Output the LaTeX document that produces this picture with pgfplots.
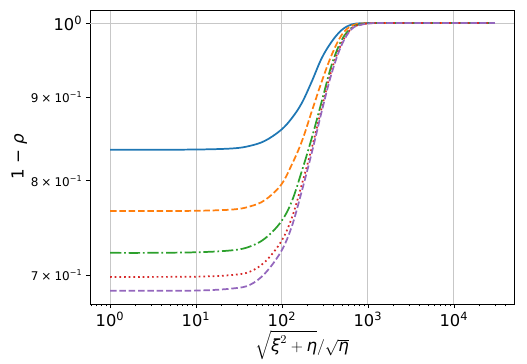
\documentclass[border=0pt]{standalone}
\usepackage{fontspec}
\setmainfont{DejaVu Sans}
\usepackage{amsmath}
\usepackage{pgfplots}
\pgfplotsset{compat=1.18}

\definecolor{mplblue}{HTML}{1F77B4}
\definecolor{mplorange}{HTML}{FF7F0E}
\definecolor{mplgreen}{HTML}{2CA02C}
\definecolor{mplred}{HTML}{D62728}
\definecolor{mplpurple}{HTML}{9467BD}

\newcommand{\minorlab}[1]{#1\hspace{0.25em}×\hspace{0.25em}10\textsuperscript{−1}}

\begin{document}
\begin{tikzpicture}
\begin{axis}[name=ax,
  xmode=log, ymode=log,
  scale only axis, width=318pt, height=220.5pt,
  xmin=0.585, xmax=50000, ymin=0.672, ymax=1.0186,
  axis line style={line width=0.6pt},
  tick align=outside, tick pos=left,
  every tick/.style={black, line width=0.6pt},
  major tick length=3.1pt, minor tick length=1.8pt,
  xtick={1,10,100,1000,10000},
  xticklabels={10\textsuperscript{0},10\textsuperscript{1},10\textsuperscript{2},10\textsuperscript{3},10\textsuperscript{4}},
  minor xtick={0.6,0.7,0.8,0.9,2,3,4,5,6,7,8,9,20,30,40,50,60,70,80,90,200,300,400,500,600,700,800,900,2000,3000,4000,5000,6000,7000,8000,9000,20000,30000,40000},
  xmajorgrids=true, ymajorgrids=false,
  major grid style={black!22, line width=0.7pt},
  xticklabel style={font=\fontsize{12.2}{14}\selectfont, inner sep=1pt, yshift=-2pt},
  ytick={0.7,0.8,0.9},
  yticklabels={\minorlab{7},\minorlab{8},\minorlab{9}},
  yticklabel style={font=\fontsize{9}{11}\selectfont, inner sep=2.5pt},
  yminorticks=false,
  extra y ticks={1},
  extra y tick labels={10\textsuperscript{0}},
  extra y tick style={ymajorgrids=true,
    yticklabel style={font=\fontsize{12.2}{14}\selectfont}},
  xlabel={$\sqrt{\textit{ξ}^{2}+\textit{η}}/\sqrt{\textit{η}}$},
  every axis x label/.style={at={(rel axis cs:0.5,0)}, anchor=base, yshift=-36pt,
    font=\fontsize{12.5}{14}\selectfont},
  ylabel={1 − \textit{ρ}},
  every axis y label/.style={at={(rel axis cs:0,0.5)}, xshift=-53pt, rotate=90, anchor=center,
    font=\fontsize{12.5}{14}\selectfont},
]
% blue, solid
\addplot[mplblue, line width=1.3pt, smooth, tension=0.6] coordinates {
  (1,0.8359) (3,0.8359) (11.1,0.8362) (27.2,0.8375) (42.4,0.8405) (63.4,0.8465)
  (97.3,0.8595) (129.6,0.8738) (169.4,0.8926) (221.4,0.9202) (289.4,0.9513)
  (378.3,0.9739) (494.5,0.9901) (646,0.998) (845,0.9997) (1200,1) (2000,1)
  (5000,1) (30000,1)};
% orange, dashed
\addplot[mplorange, line width=1.3pt, smooth, tension=0.6, dash pattern=on 4.9pt off 2.1pt] coordinates {
  (1,0.7665) (3,0.7665) (11.1,0.7668) (27.2,0.7683) (42.4,0.7715) (63.4,0.7785)
  (97.3,0.7952) (129.6,0.8181) (169.4,0.8452) (221.4,0.8820) (289.4,0.9202)
  (378.3,0.9557) (494.5,0.9832) (646,0.9962) (845,0.9993) (1200,1) (2000,1)
  (5000,1) (30000,1)};
% green, dash-dot
\addplot[mplgreen, line width=1.3pt, smooth, tension=0.6, dash pattern=on 8.5pt off 2.1pt on 1.3pt off 2.1pt] coordinates {
  (1,0.7225) (3,0.7225) (11.1,0.7232) (27.2,0.7252) (42.4,0.729) (63.4,0.7373)
  (97.3,0.7548) (129.6,0.7766) (169.4,0.8103) (221.4,0.8493) (289.4,0.8946)
  (378.3,0.9423) (494.5,0.9762) (646,0.9934) (845,0.9985) (1200,1) (2000,1)
  (5000,1) (30000,1)};
% red, dotted
\addplot[mplred, line width=1.3pt, smooth, tension=0.6, dash pattern=on 1.3pt off 2.2pt] coordinates {
  (1,0.6983) (3,0.6983) (11.1,0.6986) (27.2,0.7003) (42.4,0.7035) (63.4,0.7133)
  (97.3,0.7338) (129.6,0.7586) (169.4,0.7952) (221.4,0.8374) (289.4,0.8863)
  (378.3,0.9357) (494.5,0.9717) (646,0.9925) (845,0.998) (1200,1) (2000,1)
  (5000,1) (30000,1)};
% purple, dashed
\addplot[mplpurple, line width=1.3pt, smooth, tension=0.6, dash pattern=on 4.9pt off 2.1pt] coordinates {
  (1,0.6847) (3,0.6847) (11.1,0.685) (27.2,0.687) (42.4,0.6905) (63.4,0.7017)
  (97.3,0.7236) (129.6,0.7495) (169.4,0.7877) (221.4,0.8316) (289.4,0.8820)
  (378.3,0.9313) (494.5,0.9693) (646,0.9915) (845,0.9978) (1200,1) (2000,1)
  (5000,1) (30000,1)};
\end{axis}
% margins as in the reference
\path (ax.south west) ++(-67.5pt,-41.25pt) rectangle ([shift={(9.75pt,7.5pt)}]ax.north east);
\end{tikzpicture}
\end{document}
